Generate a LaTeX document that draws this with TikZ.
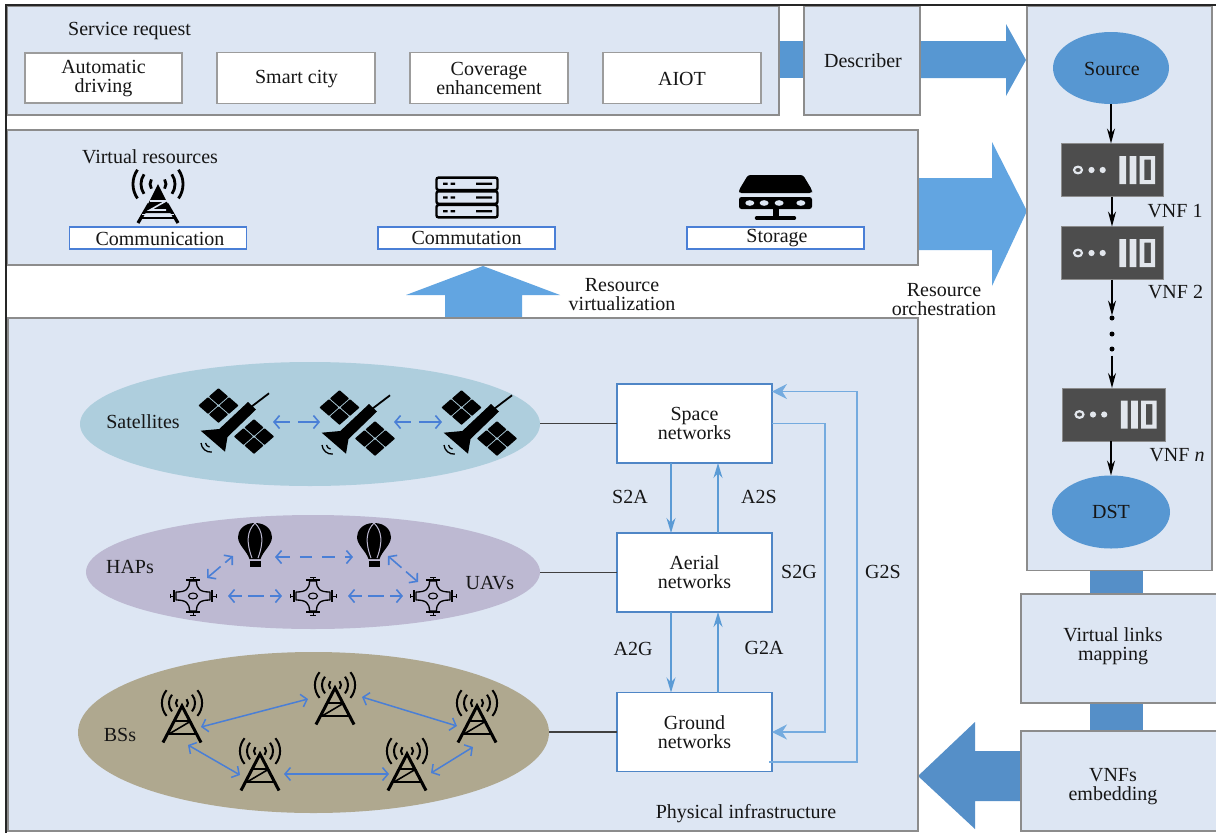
\documentclass[tikz,border=0pt]{standalone}
\usepackage{fontspec}
\setmainfont{Liberation Serif}
\usetikzlibrary{arrows.meta,shapes.geometric,calc}
\definecolor{panelc}{HTML}{DDE6F3}
\definecolor{edgec}{HTML}{8C8C8C}
\definecolor{softedge}{HTML}{9C9C9C}
\definecolor{bluea}{HTML}{62A5E1}
\definecolor{blueb}{HTML}{5797D2}
\definecolor{bluec}{HTML}{558FC8}
\definecolor{linkc}{HTML}{4A7FD6}
\definecolor{netc}{HTML}{5B9BD5}
\definecolor{netl}{HTML}{74ABDF}
\definecolor{netd}{HTML}{4F86C6}
\definecolor{satc}{HTML}{AECEDD}
\definecolor{hapc}{HTML}{BDB9D2}
\definecolor{bsc}{HTML}{AFA88F}
\definecolor{darkc}{HTML}{4D4D4D}
\definecolor{inkc}{HTML}{161616}
\definecolor{vnfc}{HTML}{E2E6EC}
\tikzset{
  x=1pt,y=-1pt,
  every node/.style={text=inkc,font=\fontsize{20}{18.8}\selectfont,align=center,inner sep=0,outer sep=0},
  panel/.style={draw=edgec,line width=1.1pt,fill=panelc},
  greybox/.style={draw=softedge,line width=1.2pt,fill=white},
  resbox/.style={draw=linkc,line width=1.1pt,fill=white,minimum width=177,minimum height=22},
  netbox/.style={draw=netd,line width=1.4pt,fill=white,minimum width=155,minimum height=79},
  flowarrow/.style={-{Stealth[length=15,width=8]},line width=1.2pt,black},
  netarrow/.style={-{Stealth[length=15,width=9]},draw=netc,line width=1.6pt},
  looparrow/.style={-{Stealth[length=15,width=15]},draw=netl,line width=1.3pt},
  peer/.style={{Straight Barb[length=5.5,width=13]}-{Straight Barb[length=5.5,width=13]},draw=linkc,line width=1.6pt},
  peerdash/.style={peer,dash pattern=on 15 off 8 on 30},
  wire/.style={draw=black!75,line width=1.1pt},
  pics/satellite/.style={code={
    \fill[black] (-35.3,9.7) -- (-16.7,8) -- (12,-19) -- (20,-11.5) -- (-8.5,16) -- (-11,30.7) -- cycle;
    \draw[black,line width=1.8pt] (15,-14) -- (33,-27.7);
    \foreach \a/\b in {-28/-15.5,-17.5/-24.5,-7/-15.5,-17.5/-6.5,7.5/15.5,18/6.5,28.5/15.5,18/24.5}{
      \fill[black,rounded corners=.6] (\a-9.6,\b) -- (\a,\b-8.4) -- (\a+9.6,\b) -- (\a,\b+8.4) -- cycle;}
    \draw[black,line width=1.3pt] (-30.5,22) arc (170:100:5);
    \draw[black,line width=1.3pt] (-35,22) arc (175:85:10);
  }},
  pics/balloon/.style={code={
    \fill[black] (0,-22) .. controls (12,-22) and (17,-14) .. (17,-8) .. controls (17,0) and (8,6) .. (5.5,14) -- (-5.5,14) .. controls (-8,6) and (-17,0) .. (-17,-8) .. controls (-17,-14) and (-12,-22) .. (0,-22) -- cycle;
    \draw[hapc,line width=1pt] (0,-22) .. controls (-8,-14) and (-9,-3) .. (-3,13);
    \draw[hapc,line width=1pt] (0,-22) .. controls (8,-14) and (9,-3) .. (3,13);
    \fill[black] (-5.5,15.5) rectangle (5.5,22);
  }},
  pics/drone/.style={code={
    \draw[black,line width=1.3pt,line join=round] (3.5,-15) .. controls (3.5,-7) and (7,-4) .. (17,-4) -- (17,4) .. controls (7,4) and (3.5,7) .. (3.5,15) -- (-3.5,15) .. controls (-3.5,7) and (-7,4) .. (-17,4) -- (-17,-4) .. controls (-7,-4) and (-3.5,-7) .. (-3.5,-15) -- cycle;
    \draw[black,line width=1.1pt] (0,0) ellipse (4.5 and 3);
    \draw[black,line width=1.8pt] (-7,-16) -- (7,-16) (-7,16) -- (7,16) (-19,-6) -- (-19,6) (19,-6) -- (19,6);
    \draw[black,line width=1pt] (0,-16) -- (0,-19) (-3,-19) -- (3,-19) (0,16) -- (0,19) (-3,19) -- (3,19)
       (-19,0) -- (-23,0) (19,0) -- (23,0) (-23,-2) -- (-23,2) (23,-2) -- (23,2);
  }},
  pics/tower/.style={code={
    \draw[black,line width=3pt,line join=miter] (-19,17.5) -- (0,-19) -- (19,17.5);
    \draw[black,line width=2pt] (-9,-4) -- (9,-4);
    \draw[black,line width=2.6pt] (-16,9) -- (16,9);
    \draw[black,line width=1.6pt] (-13,9) -- (9,-4);
    \foreach \r in {6,13,20}{
      \draw[black,line width=2pt] (-\r*0.77,-22-\r*0.64) arc (220:140:\r);
      \draw[black,line width=2pt] (\r*0.77,-22-\r*0.64) arc (-40:40:\r);
    }
  }},
  pics/bigtower/.style={code={
    \draw[black,line width=3.2pt] (-20,19) -- (-9,0) (20,19) -- (9,0);
    \fill[black] (0,-20) -- (14.5,9) -- (-14.5,9) -- cycle;
    \draw[panelc,line width=1.6pt] (-8,-3) -- (8,-3) -- (-8,6) -- (8,6);
    \draw[panelc,line width=1pt] (-16,10) -- (16,10);
    \draw[black,line width=2.4pt] (-18,14) -- (18,14);
    \foreach \r in {8,17,25}{
      \draw[black,line width=2.8pt] (-\r*0.82,-20-\r*0.57) arc (215:145:\r);
      \draw[black,line width=2.8pt] (\r*0.82,-20-\r*0.57) arc (-35:35:\r);
    }
  }},
  pics/rackicon/.style={code={
    \foreach \y in {-13.7,0,13.7}{
      \draw[black,line width=2.4pt,fill=panelc,rounded corners=2] (-30.5,\y-6.2) rectangle (30.5,\y+6.2);
      \fill[black] (-24,\y-1.1) rectangle (-19.5,\y+1.1) (-16.5,\y-1.1) rectangle (-12,\y+1.1) (9,\y-1.1) rectangle (25,\y+1.1);
    }
  }},
  pics/diskicon/.style={code={
    \fill[black,rounded corners=2.5] (-27.5,-21) -- (27.5,-21) -- (36.5,-6) -- (36.5,-3) -- (-36.5,-3) -- (-36.5,-6) -- cycle;
    \fill[black,rounded corners=2.5] (-36.5,1) rectangle (36.5,13);
    \foreach \a in {-25.7,-11.4,3.6,25.4}{\fill[panelc] (\a,7) ellipse (4.5 and 2.8);}
    \fill[black] (-2.5,13) rectangle (3.5,22);
    \draw[black,line width=3.4pt,line cap=round] (-19,22) -- (19,22);
  }},
  pics/vnficon/.style={code={
    \draw[vnfc,line width=2.2pt] (-34,0) ellipse (4 and 3.3);
    \fill[vnfc] (-20.5,0) circle (3.1) (-9.3,0) circle (3.1);
    \fill[vnfc] (7.3,-14) rectangle (14,14) (17.5,-14) rectangle (24.3,14);
    \fill[vnfc,even odd rule] (27.6,-14) rectangle (43.2,14) (32.4,-10.5) rectangle (38.9,10);
  }},
}
\begin{document}
\begin{tikzpicture}
\useasboundingbox (0,0) rectangle (1216,833);
\fill[white] (0,0) rectangle (1216,833);

% block arrows and strips
\fill[blueb] (779,41) rectangle (804,78);
\fill[blueb] (920,41) -- (1006,41) -- (1006,24) -- (1026,60) -- (1006,96) -- (1006,78) -- (920,78) -- cycle;
\fill[bluea] (918,178) -- (992,178) -- (992,142) -- (1027,211) -- (992,286) -- (992,250) -- (918,250) -- cycle;
\fill[bluea] (445,318) -- (445,295) -- (406,295) -- (483,266) -- (560,295) -- (522,295) -- (522,318) -- cycle;
\fill[bluec] (1090,570) rectangle (1143,595);
\fill[bluec] (1090,703) rectangle (1143,731);
\fill[bluec] (1021,751) -- (975,751) -- (975,722) -- (918,776) -- (975,829) -- (975,801) -- (1021,801) -- cycle;

% panels
\node[panel,minimum width=772,minimum height=109] (service) at (393,60.5) {};
\node[panel,minimum width=116,minimum height=109] (describer) at (862,60.5) {};
\node[panel,minimum width=911,minimum height=135] (virtual) at (462.5,197.5) {};
\node[panel,minimum width=910,minimum height=513] (physical) at (463,574.5) {};
\node[panel,minimum width=185,minimum height=564.5] (chain) at (1119.5,288.25) {};
\node[panel,minimum width=197,minimum height=109] (links) at (1119.5,648.5) {};
\node[panel,minimum width=197,minimum height=100] (embed) at (1119.5,781) {};

% frame
\draw[black!85,line width=1.5pt] (6,833) -- (6,5) -- (1216,5);

% service request
\node (servicetitle) at (129.5,31.5) {Service request};
\node[greybox,minimum width=157,minimum height=50] (auto) at (103.5,78) {};
\node at (103.5,78.5) {Automatic\\driving};
\node[greybox,minimum width=158,minimum height=51] (smart) at (296,78) {};
\node at (296.5,79) {Smart city};
\node[greybox,minimum width=158,minimum height=51] (cover) at (489,78) {};
\node at (489,78.5) {Coverage\\enhancement};
\node[greybox,minimum width=158,minimum height=51] (aiot) at (682,78) {};
\node at (682,78.5) {AIOT};
\node at (863,61) {Describer};

% virtual resources
\node (virtualtitle) at (150,157) {Virtual resources};
\node[resbox] (comm) at (158,238) {};
\node at (160,238.5) {Communication};
\node[resbox] (commut) at (466.5,238) {Commutation};
\node[resbox] (stor) at (775.5,238) {};
\node at (777,238) {Storage};
\pic at (158,204) {bigtower};
\pic at (467,197.5) {rackicon};
\pic at (775.5,196) {diskicon};

\node (virtlabel) at (622,294.5) {Resource\\virtualization};
\node (orchlabel) at (944,299.5) {Resource\\orchestration};

% ovals
\node[shape=ellipse,fill=satc,minimum width=460,minimum height=124] (sat) at (310,424) {};
\node[shape=ellipse,fill=hapc,minimum width=454,minimum height=114] (hap) at (313,572) {};
\node[shape=ellipse,fill=bsc,minimum width=471,minimum height=161] (bs) at (313.5,732.5) {};
\node at (143,422) {Satellites};
\node at (130,567) {HAPs};
\node at (490,583) {UAVs};
\node at (120,735) {BSs};

% satellites
\pic at (236,421) {satellite};
\pic at (357,423) {satellite};
\pic at (479,423) {satellite};
\coordinate (s1r) at (273,422);
\coordinate (s2l) at (320,422);
\coordinate (s2r) at (394,422);
\coordinate (s3l) at (442,422);
\draw[peerdash] (s1r) -- (s2l);
\draw[peerdash] (s2r) -- (s3l);

% HAPs and UAVs
\pic at (255,545) {balloon};
\pic at (374,545) {balloon};
\pic at (193,596) {drone};
\pic at (313,596) {drone};
\pic at (433,596) {drone};
\coordinate (b1r) at (275,557);
\coordinate (b2l) at (353,557);
\coordinate (d1r) at (228,596);
\coordinate (d2l) at (282,596);
\coordinate (d2r) at (348,596);
\coordinate (d3l) at (403,596);
\coordinate (d1t) at (207,578);
\coordinate (b1l) at (233,556);
\coordinate (b2d) at (388,556);
\coordinate (d3t) at (418,582);
\draw[peer,dash pattern=on 13 off 10 on 12 off 10 on 13 off 10 on 30] (b1r) -- (b2l);
\draw[peer,dash pattern=on 12 off 6 on 16 off 6 on 30] (d1r) -- (d2l);
\draw[peer,dash pattern=on 12 off 6 on 16 off 6 on 30] (d2r) -- (d3l);
\draw[peer,dash pattern=on 16 off 6 on 30] (d1t) -- (b1l);
\draw[peer,dash pattern=on 16 off 6 on 30] (b2d) -- (d3t);

% base stations
\pic at (182,725) {tower};
\pic at (335,707) {tower};
\pic at (477,725) {tower};
\pic at (260,773) {tower};
\pic at (407,773) {tower};
\coordinate (t1a) at (201,727);
\coordinate (t2a) at (308,699);
\coordinate (t2b) at (362,697);
\coordinate (t3a) at (457,726);
\coordinate (t1b) at (188,745);
\coordinate (t4a) at (240,775);
\coordinate (t4b) at (284,774);
\coordinate (t5a) at (389,774);
\coordinate (t5b) at (431,773);
\coordinate (t3b) at (473,747);
\draw[peer,line width=1.5pt] (t1a) -- (t2a);
\draw[peer,line width=1.5pt] (t2b) -- (t3a);
\draw[peer,line width=1.5pt] (t1b) -- (t4a);
\draw[peer,line width=1.5pt] (t4b) -- (t5a);
\draw[peer,line width=1.5pt] (t5b) -- (t3b);

% network boxes
\node[netbox] (space) at (694.5,423.5) {Space\\networks};
\node[netbox] (aerial) at (694.5,572.5) {Aerial\\networks};
\node[netbox] (ground) at (694.5,732) {Ground\\networks};
\draw[wire] (sat.east |- space.west) -- (space.west);
\draw[wire] (hap.east |- aerial.west) -- (aerial.west);
\draw[wire] (bs.east |- ground.west) -- (ground.west);

\draw[netarrow] ([xshift=-23.5]space.south) -- ([xshift=-23.5]aerial.north);
\draw[netarrow] ([xshift=23.5]aerial.north) -- ([xshift=23.5]space.south);
\draw[netarrow] ([xshift=-23.5]aerial.south) -- ([xshift=-23.5]ground.north);
\draw[netarrow] ([xshift=23.5]ground.north) -- ([xshift=23.5]aerial.south);
\coordinate (s2gtop) at (825,423.5);
\coordinate (s2gbot) at (825,732);
\coordinate (g2sbot) at (857,762);
\coordinate (g2stop) at (857,391.5);
\draw[looparrow] (space.east) -- (s2gtop) -- (s2gbot) -- (ground.east);
\draw[looparrow] ([xshift=-3,yshift=-30]ground.east) -- (g2sbot) -- (g2stop) -- ([yshift=32]space.east);

\node at (630,497) {S2A};
\node at (759,497) {A2S};
\node at (799,572) {S2G};
\node at (883,572) {G2S};
\node at (633,649) {A2G};
\node at (764,648) {G2A};
\node at (746,814) {Physical infrastructure};

% service chain
\node[shape=ellipse,fill=blueb,minimum width=116,minimum height=72] (source) at (1111,68) {};
\node at (1112,69) {Source};
\node[fill=darkc,draw=edgec,line width=.6pt,minimum width=102,minimum height=53] (vnf1) at (1112,170) {};
\node[fill=darkc,draw=edgec,line width=.6pt,minimum width=102,minimum height=53] (vnf2) at (1112,253) {};
\node[fill=darkc,draw=edgec,line width=.6pt,minimum width=103,minimum height=53] (vnfn) at (1113.5,414.5) {};
\pic at (1112,170) {vnficon};
\pic at (1112,253) {vnficon};
\pic at (1113.5,414.5) {vnficon};
\node[shape=circle,fill=black,minimum size=5] (dota) at (1112,318) {};
\node[shape=circle,fill=black,minimum size=5] (dotb) at (1112,334) {};
\node[shape=circle,fill=black,minimum size=5] (dotc) at (1112,349) {};
\node[shape=ellipse,fill=blueb,minimum width=118,minimum height=73] (dst) at (1111,512) {DST};
\draw[flowarrow] (source.south) -- (source.south |- vnf1.north);
\draw[flowarrow] (vnf1.south -| dota) -- (vnf2.north -| dota);
\draw[flowarrow] (vnf2.south -| dota) -- (dota.north);
\draw[flowarrow] ([yshift=-4]dotc.south) -- (vnfn.north -| dotc);
\draw[flowarrow] (vnfn.south -| dst) -- (dst.north);
\node at (1175,211) {VNF 1};
\node at (1175.5,292) {VNF 2};
\node at (1177,455) {VNF \textit{n}};

\node at (1113,646) {Virtual links\\mapping};
\node at (1113,786.5) {VNFs\\embedding};
\end{tikzpicture}
\end{document}
